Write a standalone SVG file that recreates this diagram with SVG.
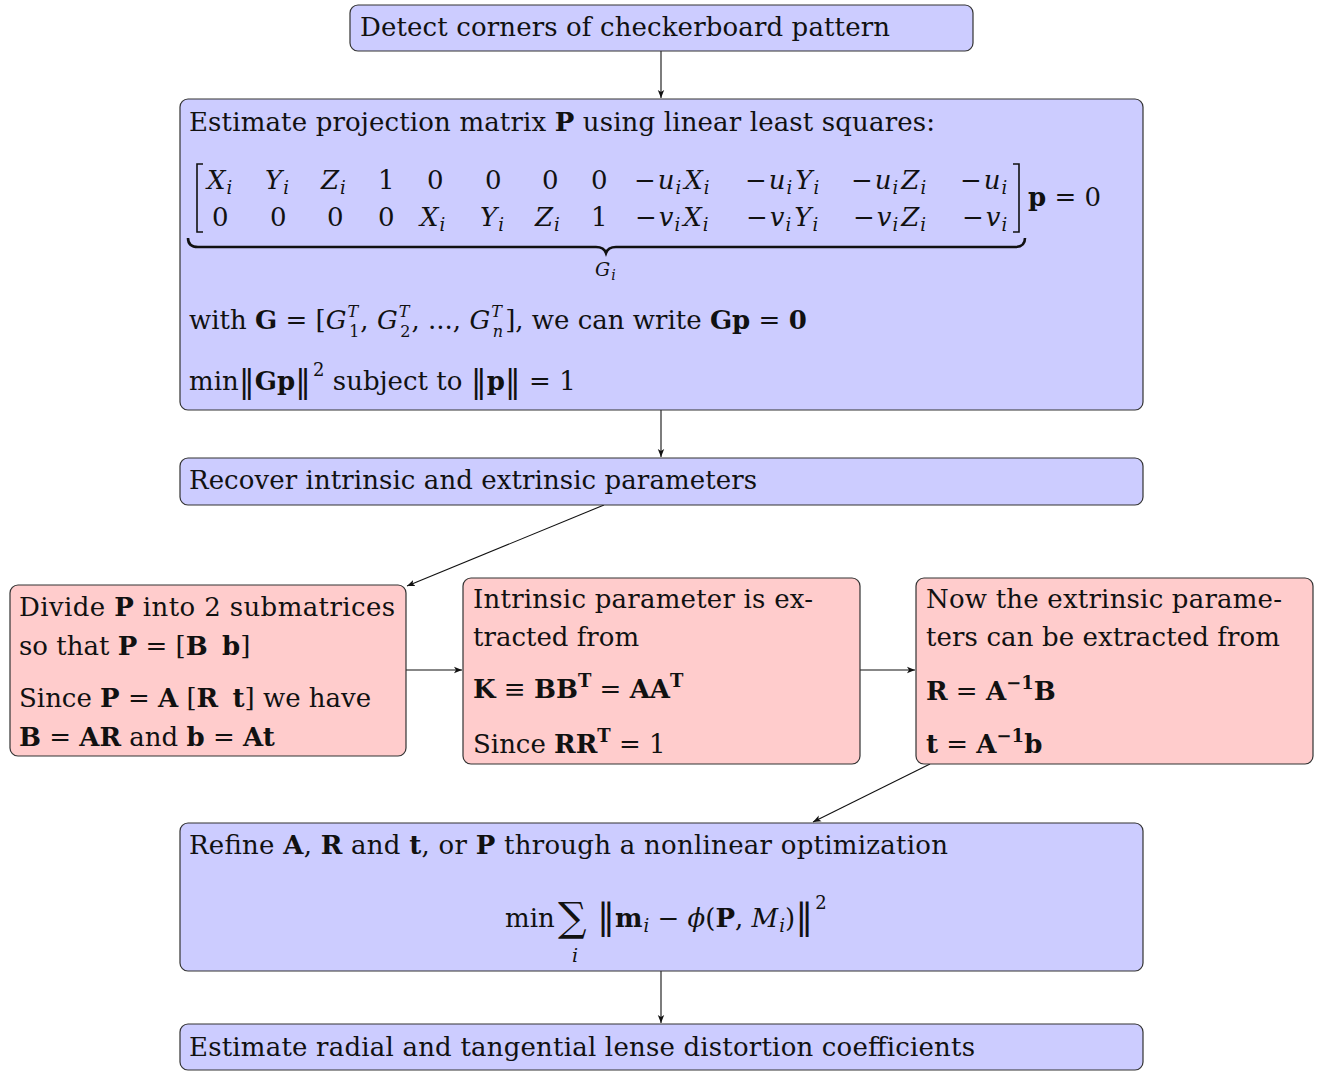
<svg xmlns="http://www.w3.org/2000/svg" width="1318" height="1072" viewBox="0 0 1318 1072">
<style>
.b{fill:#ccccff;stroke:#333;stroke-width:1.2}
.r{fill:#ffcccc;stroke:#333;stroke-width:1.2}
text{font-family:"DejaVu Serif","Liberation Serif",serif;font-size:26px;fill:#111}
.it{font-style:italic}
.bf{font-weight:bold}
.sm{font-size:18px}
.ss{font-size:16px}
.nb{font-size:32px}
.c{stroke:#111;stroke-width:1.1;fill:none}
</style>
<defs>
<marker id="ah" markerWidth="10" markerHeight="8" refX="8" refY="4" orient="auto" markerUnits="userSpaceOnUse">
<path d="M0,0.8 L8,4 L0,7.2 L2,4 Z" fill="#111"/>
</marker>
</defs>
<rect width="1318" height="1072" fill="#fff"/>
<g id="connectors">
<line class="c" x1="661" y1="51" x2="661" y2="98" marker-end="url(#ah)"/>
<line class="c" x1="661" y1="410" x2="661" y2="457" marker-end="url(#ah)"/>
<line class="c" x1="604" y1="505" x2="407" y2="586" marker-end="url(#ah)"/>
<line class="c" x1="406" y1="670" x2="462" y2="670" marker-end="url(#ah)"/>
<line class="c" x1="860" y1="670" x2="915" y2="670" marker-end="url(#ah)"/>
<line class="c" x1="930" y1="764" x2="813" y2="822" marker-end="url(#ah)"/>
<line class="c" x1="661" y1="971" x2="661" y2="1023" marker-end="url(#ah)"/>
</g>
<g id="n1">
<rect class="b" x="350" y="5" width="623" height="46" rx="8"/>
<text x="360" y="36" textLength="530">Detect corners of checkerboard pattern</text>
</g>
<g id="n2">
<rect class="b" x="180" y="99" width="963" height="311" rx="8"/>
<text x="189" y="131" textLength="746">Estimate projection matrix <tspan class="bf">P</tspan> using linear least squares:</text>
<path d="M203,164 H197 V232 H203 M1013,164 H1019 V232 H1013" stroke="#111" stroke-width="1.6" fill="none"/>
<g class="row1">
<text x="207" y="189" class="it">X<tspan class="sm" dx="1" dy="5">i</tspan></text>
<text x="265" y="189" class="it">Y<tspan class="sm" dx="1" dy="5">i</tspan></text>
<text x="321" y="189" class="it">Z<tspan class="sm" dx="1" dy="5">i</tspan></text>
<text x="378" y="189">1</text>
<text x="427" y="189">0</text>
<text x="485" y="189">0</text>
<text x="542" y="189">0</text>
<text x="591" y="189">0</text>
<text x="634" y="189">−<tspan class="it" dx="2">u</tspan><tspan class="it sm" dx="1" dy="5">i</tspan><tspan class="it" dx="3" dy="-5">X</tspan><tspan class="it sm" dx="1" dy="5">i</tspan></text>
<text x="745" y="189">−<tspan class="it" dx="2">u</tspan><tspan class="it sm" dx="1" dy="5">i</tspan><tspan class="it" dx="3" dy="-5">Y</tspan><tspan class="it sm" dx="1" dy="5">i</tspan></text>
<text x="851" y="189">−<tspan class="it" dx="2">u</tspan><tspan class="it sm" dx="1" dy="5">i</tspan><tspan class="it" dx="3" dy="-5">Z</tspan><tspan class="it sm" dx="1" dy="5">i</tspan></text>
<text x="960" y="189">−<tspan class="it" dx="2">u</tspan><tspan class="it sm" dx="1" dy="5">i</tspan></text>
</g>
<g class="row2">
<text x="212" y="226">0</text>
<text x="270" y="226">0</text>
<text x="327" y="226">0</text>
<text x="378" y="226">0</text>
<text x="420" y="226" class="it">X<tspan class="sm" dx="1" dy="5">i</tspan></text>
<text x="480" y="226" class="it">Y<tspan class="sm" dx="1" dy="5">i</tspan></text>
<text x="535" y="226" class="it">Z<tspan class="sm" dx="1" dy="5">i</tspan></text>
<text x="591" y="226">1</text>
<text x="635" y="226">−<tspan class="it" dx="2">v</tspan><tspan class="it sm" dx="1" dy="5">i</tspan><tspan class="it" dx="3" dy="-5">X</tspan><tspan class="it sm" dx="1" dy="5">i</tspan></text>
<text x="746" y="226">−<tspan class="it" dx="2">v</tspan><tspan class="it sm" dx="1" dy="5">i</tspan><tspan class="it" dx="3" dy="-5">Y</tspan><tspan class="it sm" dx="1" dy="5">i</tspan></text>
<text x="853" y="226">−<tspan class="it" dx="2">v</tspan><tspan class="it sm" dx="1" dy="5">i</tspan><tspan class="it" dx="3" dy="-5">Z</tspan><tspan class="it sm" dx="1" dy="5">i</tspan></text>
<text x="962" y="226">−<tspan class="it" dx="2">v</tspan><tspan class="it sm" dx="1" dy="5">i</tspan></text>
</g>
<text x="1028" y="206"><tspan class="bf">p</tspan> = 0</text>
<path d="M188,238 Q188,247 198,247 H596 Q604,247 606,253 Q608,247 616,247 H1015 Q1025,247 1025,238" stroke="#111" stroke-width="2.6" fill="none"/>
<text x="595" y="276" class="it" style="font-size:19px">G<tspan dx="1" dy="4" style="font-size:14px">i</tspan></text>
<text x="189" y="329">with <tspan class="bf">G</tspan> = [<tspan class="it">G</tspan><tspan class="it ss" dx="1" dy="-12">T</tspan><tspan class="ss" dx="-9" dy="20">1</tspan><tspan dx="1" dy="-8">, </tspan><tspan class="it">G</tspan><tspan class="it ss" dx="1" dy="-12">T</tspan><tspan class="ss" dx="-9" dy="20">2</tspan><tspan dx="1" dy="-8">, ..., </tspan><tspan class="it">G</tspan><tspan class="it ss" dx="1" dy="-12">T</tspan><tspan class="it ss" dx="-9" dy="20">n</tspan><tspan dx="2" dy="-8">], we can write </tspan><tspan class="bf">Gp</tspan> = <tspan class="bf">0</tspan></text>
<text x="189" y="390">min<tspan class="nb" dy="2">‖</tspan><tspan class="bf" dy="-2">Gp</tspan><tspan class="nb" dy="2">‖</tspan><tspan class="sm" dx="2" dy="-16">2</tspan><tspan dy="14"> subject to </tspan><tspan class="nb" dy="2">‖</tspan><tspan class="bf" dy="-2">p</tspan><tspan class="nb" dy="2">‖</tspan><tspan dy="-2"> = 1</tspan></text>
</g>
<g id="n3">
<rect class="b" x="180" y="458" width="963" height="47" rx="8"/>
<text x="189" y="489" textLength="568">Recover intrinsic and extrinsic parameters</text>
</g>
<g id="n4">
<rect class="r" x="10" y="585" width="396" height="171" rx="8"/>
<text x="19" y="616" textLength="376">Divide <tspan class="bf">P</tspan> into 2 submatrices</text>
<text x="19" y="655">so that <tspan class="bf">P</tspan> = [<tspan class="bf">B</tspan> <tspan class="bf" dx="6">b</tspan>]</text>
<text x="19" y="707">Since <tspan class="bf">P</tspan> = <tspan class="bf">A</tspan> [<tspan class="bf">R</tspan> <tspan class="bf" dx="6">t</tspan>] we have</text>
<text x="19" y="746"><tspan class="bf">B</tspan> = <tspan class="bf">AR</tspan> and <tspan class="bf">b</tspan> = <tspan class="bf">At</tspan></text>
</g>
<g id="n5">
<rect class="r" x="463" y="578" width="397" height="186" rx="8"/>
<text x="473" y="608" textLength="340">Intrinsic parameter is ex-</text>
<text x="473" y="646">tracted from</text>
<text x="473" y="698"><tspan class="bf">K</tspan> ≡ <tspan class="bf">BB</tspan><tspan class="bf sm" dy="-11">T</tspan><tspan dy="11"> = </tspan><tspan class="bf">AA</tspan><tspan class="bf sm" dy="-11">T</tspan></text>
<text x="473" y="753">Since <tspan class="bf">RR</tspan><tspan class="bf sm" dy="-11">T</tspan><tspan dy="11"> = 1</tspan></text>
</g>
<g id="n6">
<rect class="r" x="916" y="578" width="397" height="186" rx="8"/>
<text x="926" y="608" textLength="356">Now the extrinsic parame-</text>
<text x="926" y="646" textLength="354">ters can be extracted from</text>
<text x="926" y="700"><tspan class="bf">R</tspan> = <tspan class="bf">A</tspan><tspan class="bf sm" dy="-11">−1</tspan><tspan class="bf" dy="11">B</tspan></text>
<text x="926" y="753"><tspan class="bf">t</tspan> = <tspan class="bf">A</tspan><tspan class="bf sm" dy="-11">−1</tspan><tspan class="bf" dy="11">b</tspan></text>
</g>
<g id="n7">
<rect class="b" x="180" y="823" width="963" height="148" rx="8"/>
<text x="189" y="854" textLength="759">Refine <tspan class="bf">A</tspan>, <tspan class="bf">R</tspan> and <tspan class="bf">t</tspan>, or <tspan class="bf">P</tspan> through a nonlinear optimization</text>
<text x="505" y="927">min</text>
<text x="558" y="931" style="font-size:40px">∑</text>
<text x="572" y="962" class="it" style="font-size:19px">i</text>
<text x="597" y="929"><tspan class="nb" style="font-size:36px">‖</tspan><tspan class="bf" dy="-2">m</tspan><tspan class="it sm" dx="1" dy="5">i</tspan><tspan dy="-5"> − </tspan><tspan class="it">ϕ</tspan>(<tspan class="bf">P</tspan>, <tspan class="it">M</tspan><tspan class="it sm" dx="1" dy="5">i</tspan><tspan dy="-5">)</tspan><tspan style="font-size:36px" dy="2">‖</tspan><tspan class="sm" dx="2" dy="-20">2</tspan></text>
</g>
<g id="n8">
<rect class="b" x="180" y="1024" width="963" height="46" rx="8"/>
<text x="189" y="1056" textLength="786">Estimate radial and tangential lense distortion coefficients</text>
</g>
</svg>
